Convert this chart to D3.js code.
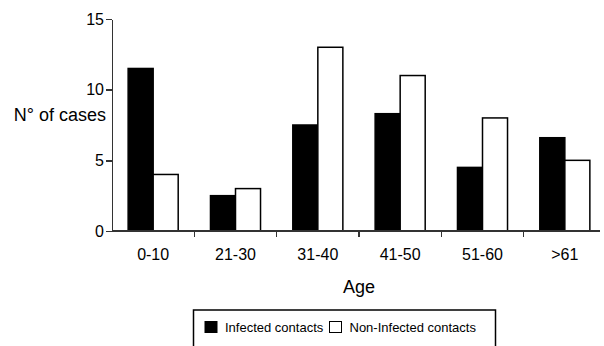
<!DOCTYPE html>
<html lang="en">
<head>
    <meta charset="UTF-8">
    <title>N° of cases by age</title>
    <script src="https://d3js.org/d3.v7.min.js"></script>
    <style>
        body {
            margin: 0;
            background: #fff;
            font-family: "Liberation Sans", Arial, sans-serif;
        }
        .axis path, .axis line {
            stroke: #333;
            stroke-width: 1.5;
            shape-rendering: crispEdges;
        }
        .axis text {
            fill: #000;
            font-family: "Liberation Sans", Arial, sans-serif;
        }
    </style>
</head>
<body>
    <div id="chart"></div>

    <script>
        // data
        const ageGroups = ["0-10", "21-30", "31-40", "41-50", "51-60", ">61"];
        const infected = [11.5, 2.5, 7.5, 8.3, 4.5, 6.6];
        const nonInfected = [4, 3, 13, 11, 8, 5];
        const seriesNames = ["Infected contacts", "Non-Infected contacts"];
        const yTicks = [0, 5, 10, 15];

        const width = 604, height = 346;

        const svg = d3.select("#chart")
            .append("svg")
            .attr("width", width)
            .attr("height", height);

        // scales
        const x = d3.scaleBand()
            .domain(ageGroups)
            .range([112, 606])
            .padding(0);

        const xSub = d3.scaleBand()
            .domain(seriesNames)
            .range([0, x.bandwidth()])
            .paddingInner(0)
            .paddingOuter(0.645);

        const y = d3.scaleLinear()
            .domain([0, 15])
            .range([231, 19]);

        const color = d3.scaleOrdinal()
            .domain(seriesNames)
            .range(["#000", "#fff"]);

        const rows = ageGroups.map((g, i) => ({
            group: g,
            values: [
                { key: seriesNames[0], value: infected[i] },
                { key: seriesNames[1], value: nonInfected[i] }
            ]
        }));

        // bars
        svg.append("g")
            .selectAll("g")
            .data(rows)
            .enter().append("g")
            .attr("transform", d => `translate(${x(d.group)},0)`)
            .selectAll("rect")
            .data(d => d.values)
            .enter().append("rect")
            .attr("x", d => xSub(d.key))
            .attr("y", d => y(d.value))
            .attr("width", xSub.bandwidth())
            .attr("height", d => y(0) - y(d.value))
            .attr("fill", d => color(d.key))
            .attr("stroke", "#000")
            .attr("stroke-width", 1.5);

        // y axis
        svg.append("g")
            .attr("class", "axis")
            .attr("transform", `translate(${x.range()[0]},0)`)
            .call(d3.axisLeft(y).tickValues(yTicks).tickSize(6).tickSizeOuter(0).tickPadding(2))
            .selectAll("text")
            .style("font-size", "16px");

        // x axis: line, ticks between groups, labels under groups
        const xAxis = svg.append("g")
            .attr("class", "axis");

        xAxis.append("line")
            .attr("x1", x.range()[0])
            .attr("x2", 600)
            .attr("y1", y(0))
            .attr("y2", y(0));

        xAxis.selectAll(".sep")
            .data(ageGroups.slice(1))
            .enter().append("line")
            .attr("class", "sep")
            .attr("x1", d => x(d))
            .attr("x2", d => x(d))
            .attr("y1", y(0))
            .attr("y2", y(0) + 6);

        xAxis.selectAll(".lbl")
            .data(ageGroups)
            .enter().append("text")
            .attr("class", "lbl")
            .attr("x", d => x(d) + x.bandwidth() / 2)
            .attr("y", 260)
            .attr("text-anchor", "middle")
            .style("font-size", "16px")
            .text(d => d);

        // axis titles
        svg.append("text")
            .attr("x", 106)
            .attr("y", 121)
            .attr("text-anchor", "end")
            .style("font-size", "18px")
            .text("N° of cases");

        svg.append("text")
            .attr("x", 359)
            .attr("y", 293)
            .attr("text-anchor", "middle")
            .style("font-size", "18px")
            .text("Age");

        // legend
        const legend = svg.append("g");

        legend.append("rect")
            .attr("x", 193.5)
            .attr("y", 310)
            .attr("width", 302)
            .attr("height", 50)
            .attr("fill", "none")
            .attr("stroke", "#000")
            .attr("stroke-width", 1.5);

        const legendX = [205, 329.5];
        seriesNames.forEach((s, i) => {
            legend.append("rect")
                .attr("x", legendX[i])
                .attr("y", 321.5)
                .attr("width", 12)
                .attr("height", 11)
                .attr("fill", color(s))
                .attr("stroke", "#000")
                .attr("stroke-width", 1);
            legend.append("text")
                .attr("x", legendX[i] + 20)
                .attr("y", 331.5)
                .style("font-size", "13px")
                .text(s);
        });
    </script>
</body>
</html>
